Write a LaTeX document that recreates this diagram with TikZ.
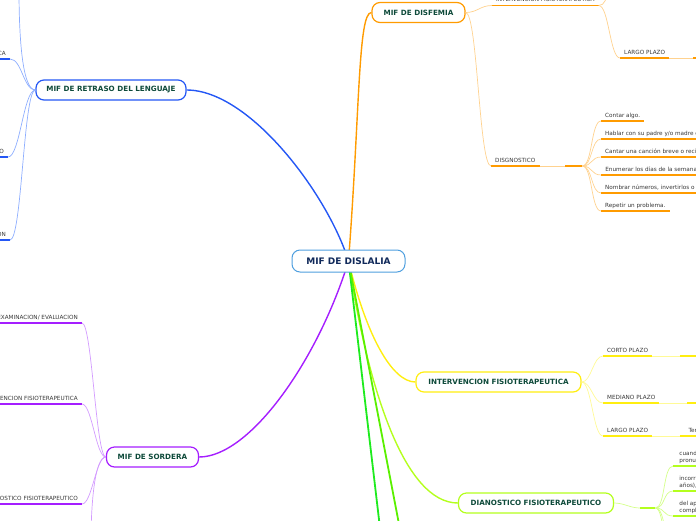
\documentclass[tikz,border=0pt]{standalone}
\usepackage{fontspec}
\setmainfont{DejaVu Sans}
\usetikzlibrary{backgrounds}
\definecolor{cenblue}{HTML}{4F9FDF}
\definecolor{cennavy}{HTML}{10295A}
\definecolor{topicgreen}{HTML}{0E4A3A}
\definecolor{retblue}{HTML}{2457F5}
\definecolor{retpale}{HTML}{8EAEFF}
\definecolor{disorange}{HTML}{FF9B00}
\definecolor{dispale}{HTML}{FFD28F}
\definecolor{intyellow}{HTML}{FFEE10}
\definecolor{intpale}{HTML}{FFFA96}
\definecolor{dialime}{HTML}{B4FF1E}
\definecolor{diapale}{HTML}{D4FF8A}
\definecolor{sorpurple}{HTML}{A51EFF}
\definecolor{sorpale}{HTML}{D39BFF}
\definecolor{mapgreenA}{HTML}{1EEB1E}
\definecolor{mapgreenB}{HTML}{5AF000}

\begin{document}
\begin{tikzpicture}[x=1pt, y=-1pt,
    hub/.style={draw=cenblue, line width=1pt, rounded corners=8pt, fill=white, text=cennavy,
      font=\bfseries\fontsize{9}{10}\selectfont, minimum width=113pt, minimum height=22pt, inner sep=0pt},
    topic/.style={draw=#1, line width=1.2pt, rounded corners=8pt, fill=white, text=topicgreen,
      font=\bfseries\fontsize{7.2}{8}\selectfont, minimum height=20pt, inner xsep=10pt, inner ysep=0pt},
    leaf/.style={anchor=south west, inner xsep=4pt, inner ysep=2.5pt, text height=4.2pt, text depth=1pt,
      font=\fontsize{5.7}{6.5}\selectfont, text=black!78,
      append after command={(\tikzlastnode.south west) edge[draw=#1, line width=1.6pt] (\tikzlastnode.south east)}},
    leafl/.style={leaf=#1, anchor=south east},
    main/.style={draw=#1, line width=1.4pt},
    twig/.style={draw=#1, line width=0.7pt}]
\useasboundingbox (0,0) rectangle (696,520);
\clip (0,0) rectangle (696,520);

% centre and topics
\node[hub] (dis) at (348.5,261) {MIF DE DISLALIA};
\node[topic=retblue, minimum width=150pt] (ret) at (111,90) {MIF DE RETRASO DEL LENGUAJE};
\node[topic=disorange, minimum width=93pt] (disf) at (418.5,12.5) {MIF DE DISFEMIA};
\node[topic=intyellow, minimum width=165pt] (int) at (498.5,382) {INTERVENCION FISIOTERAPEUTICA};
\node[topic=dialime, minimum width=155pt] (diag) at (536,503) {DIANOSTICO FISIOTERAPEUTICO};
\node[topic=sorpurple, minimum width=92pt] (sord) at (152.5,457) {MIF DE SORDERA};
\coordinate (gA) at (382,545);
\coordinate (gB) at (403,545);

\begin{scope}[on background layer]
\draw[main=retblue] (dis.center) .. controls (328,195) and (250,90) .. (ret.east);
\draw[main=disorange] (dis.center) .. controls (360,110) and (358,12.5) .. (disf.west);
\draw[main=intyellow] (dis.center) .. controls (366,335) and (392,382) .. (int.west);
\draw[main=dialime] (dis.center) .. controls (368,390) and (405,503) .. (diag.west);
\draw[main=mapgreenA, line width=1.8pt] (dis.center) -- (gA);
\draw[main=mapgreenB, line width=1.8pt] (dis.center) -- (gB);
\draw[main=sorpurple] (dis.center) .. controls (318,360) and (250,457) .. (sord.east);
\end{scope}

% retraso del lenguaje
\node[leafl=retblue] (rl1) at (10,59) {INTERVENCION FISIOTERAPEUTICA};
\node[leafl=retblue] (rl2) at (8,157) {DIAGNOSTICO FISIOTERAPEUTICO};
\node[leafl=retblue] (rl3) at (10,240) {EXAMINACION/ EVALUACION};
\coordinate (rl0) at (19,-10);
\foreach \n in {rl1,rl2,rl3}
  \draw[twig=retpale] (ret.west) to[out=180,in=0,distance=12pt] (\n.south east);
\draw[twig=retpale] (ret.west) .. controls +(-14,0) and +(0,40) .. (rl0);

% disfemia
\node[leaf=disorange] (dint) at (492,5.5) {INTERVENCION FISIOTERAPEUTICA};
\node[leaf=disorange] (dlp) at (620,58) {LARGO PLAZO};
\node[leaf=disorange, minimum width=30pt] (dlpx) at (693,58) {};
\coordinate (dup) at (607,-10);
\node[leaf=disorange] (ddia) at (491,166) {DISGNOSTICO};
\node[leaf=disorange, minimum width=17pt] (dhub) at (565,166) {};
\draw[twig=dispale] (disf.east) to[out=0,in=180,distance=12pt] (dint.south west);
\draw[twig=dispale] (disf.east) to[out=0,in=180,distance=12pt] (ddia.south west);
\draw[twig=dispale] (dint.south east) to[out=0,in=180,distance=10pt] (dlp.south west);
\draw[twig=dispale] (dint.south east) .. controls +(6,0) and +(0,8) .. (dup);
\draw[twig=dispale] (dlp.south east) -- (dlpx.south west);
\draw[twig=dispale] (ddia.south east) -- (dhub.south west);
\foreach \y/\t/\w [count=\i] in {121/{Contar algo.}/0, 139/{Hablar con su padre y/o madre d}/100,
    157/{Cantar una canción breve o recit}/100, 175/{Enumerar los días de la semana}/100,
    193/{Nombrar números, invertirlos o c}/100, 211/{Repetir un problema.}/0} {
  \node[leaf=disorange, minimum width=\w pt, align=left] (dc\i) at (601,\y) {\t};
  \draw[twig=dispale] (dhub.south east) to[out=0,in=180,distance=10pt] (dc\i.south west);
}

% intervencion fisioterapeutica
\node[leaf=intyellow] (ic1) at (603,356) {CORTO PLAZO};
\node[leaf=intyellow] (ic2) at (603,403) {MEDIANO PLAZO};
\node[leaf=intyellow] (ic3) at (603,436) {LARGO PLAZO};
\node[leaf=intyellow, minimum width=30pt] (ic1x) at (680,356) {};
\node[leaf=intyellow, minimum width=30pt] (ic2x) at (687,403) {};
\node[leaf=intyellow, minimum width=30pt, align=left] (ic3x) at (680,436) {Tene};
\foreach \i in {1,2,3} {
  \draw[twig=intpale] (int.east) to[out=0,in=180,distance=10pt] (ic\i.south west);
  \draw[twig=intpale] (ic\i.south east) -- (ic\i x.south west);
}

% dianostico fisioterapeutico
\node[leaf=dialime, minimum width=15pt] (ghub) at (640,508) {};
\node[leaf=dialime, minimum width=30pt, align=left] (gc1) at (673,466) {cuand\\pronu};
\node[leaf=dialime, minimum width=30pt, align=left] (gc2) at (673,491) {incorr\\años),};
\node[leaf=dialime, minimum width=30pt, align=left] (gc3) at (673,516) {del ap\\compl};
\coordinate (gc4) at (673,541);
\coordinate (gc5) at (673,566);
\draw[twig=diapale] (diag.east) to[out=0,in=180,distance=10pt] (ghub.south west);
\foreach \n in {gc1,gc2,gc3}
  \draw[twig=diapale] (ghub.south east) to[out=0,in=180,distance=10pt] (\n.south west);
\foreach \n in {gc4,gc5}
  \draw[twig=diapale] (ghub.south east) to[out=0,in=180,distance=10pt] (\n);

% sordera
\node[leafl=sorpurple] (sl1) at (82,323) {EXAMINACION/ EVALUACION};
\node[leafl=sorpurple] (sl2) at (82,404) {INTERVENCION FISIOTERAPEUTICA};
\node[leafl=sorpurple] (sl3) at (82,504) {DIAGNOSTICO FISIOTERAPEUTICO};
\coordinate (sl4) at (91,540);
\foreach \i in {1,2,3}
  \draw[twig=sorpale] (sord.west) to[out=180,in=0,distance=10pt] (sl\i.south east);
\draw[twig=sorpale] (sord.west) .. controls +(-12,0) and +(0,-30) .. (sl4);
\end{tikzpicture}
\end{document}
